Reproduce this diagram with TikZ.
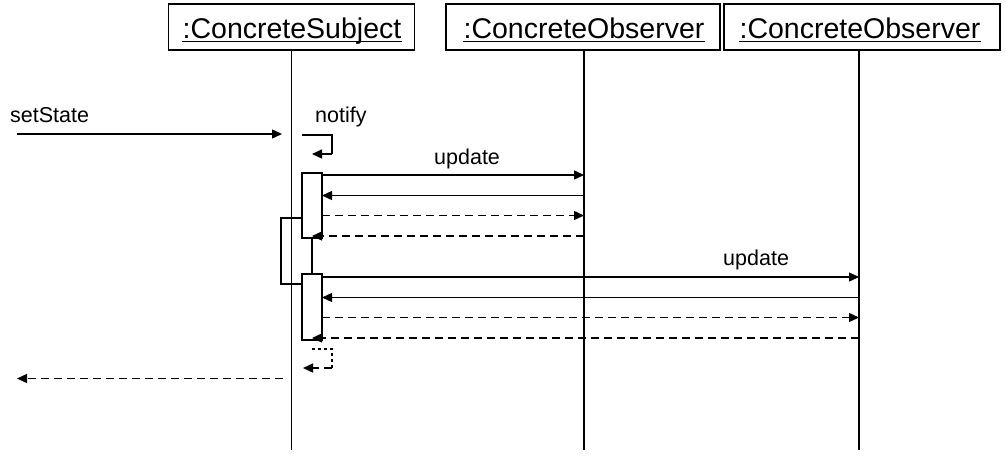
\documentclass[tikz,border=0pt]{standalone}
\usepackage{fontspec}
\setmainfont{Liberation Sans}
\usetikzlibrary{arrows.meta}
\begin{document}
\begin{tikzpicture}[x=1pt,y=-1pt,
  lbl/.style={font=\fontsize{21.5}{24}\selectfont, inner sep=0pt, anchor=base west},
  hdr/.style={draw, line width=1.3pt, minimum height=46pt, inner sep=0pt},
  htext/.style={font=\fontsize{28.5}{32}\selectfont, inner sep=0pt, anchor=base},
  uline/.style={line width=1.4pt},
  life/.style={line width=1.3pt},
  act/.style={draw, fill=white, line width=1.3pt, minimum width=20pt, inner sep=0pt},
  msg/.style={line width=1.4pt, -{Triangle[length=10pt,width=9pt]}},
  plain/.style={line width=1.4pt},
  ret/.style={msg, dash pattern=on 8pt off 5pt},
  dline/.style={line width=1.4pt, dash pattern=on 8pt off 5pt},
]
\useasboundingbox (0,0) rectangle (1006,455);

% headers
\node[hdr, minimum width=246pt] (subj) at (291.5,27) {};
\node[htext] (subjt) at (292,38) {:ConcreteSubject};
\draw[uline] ([yshift=-3.5pt]subjt.base west) -- ([yshift=-3.5pt]subjt.base east);

\node[hdr, minimum width=274pt] (obs1) at (583,27) {};
\node[htext] (obs1t) at (584,38) {:ConcreteObserver};
\draw[uline] ([yshift=-3.5pt]obs1t.base west) -- ([yshift=-3.5pt]obs1t.base east);

\node[hdr, minimum width=276pt] (obs2) at (862,27) {};
\node[htext] (obs2t) at (860,38) {:ConcreteObserver};
\draw[uline] ([yshift=-3.5pt]obs2t.base west) -- ([yshift=-3.5pt]obs2t.base east);

% lifelines
\coordinate (s0) at (291.5,50);  \coordinate (s1) at (291.5,450);
\coordinate (o0) at (584,50);    \coordinate (o1) at (584,450);
\coordinate (p0) at (859,50);    \coordinate (p1) at (859,450);
\draw[life] (s0) -- (s1);
\draw[life] (o0) -- (o1);
\draw[life] (p0) -- (p1);

% bracket between activations
\coordinate (b1) at (302,218); \coordinate (b2) at (281,218);
\coordinate (b3) at (281,284); \coordinate (b4) at (302,284);
\draw[life] (b1) -- (b2) -- (b3) -- (b4);
\coordinate (c1) at (312,238); \coordinate (c2) at (312,274);
\draw[life] (c1) -- (c2);

% activation boxes
\node[act, minimum height=65pt] (a1) at (312,205.5) {};
\node[act, minimum height=66pt] (a2) at (312,307) {};

% setState
\coordinate (ss0) at (17,134); \coordinate (ss1) at (282,134);
\draw[msg] (ss0) -- (ss1);
\node[lbl] (lset) at (10,122) {setState};

% notify self call
\coordinate (n0) at (302,135); \coordinate (n1) at (332,135);
\coordinate (n2) at (332,154); \coordinate (n3) at (312,154);
\draw[plain] (n0) -- (n1) -- (n2);
\draw[msg] (n2) -- (n3);
\node[lbl] (lnot) at (315,122) {notify};

% observer 1
\coordinate (m1a) at (322,175);   \coordinate (m1b) at (584,175);
\coordinate (m2a) at (584,195.5); \coordinate (m2b) at (322,195.5);
\coordinate (m3a) at (322,215.5); \coordinate (m3b) at (584,215.5);
\coordinate (m4a) at (584,236);   \coordinate (m4b) at (312,236);
\draw[msg] (m1a) -- (m1b);
\node[lbl] (lup1) at (434,164) {update};
\draw[msg] (m2a) -- (m2b);
\draw[ret] (m3a) -- (m3b);
\draw[ret] (m4a) -- (m4b);

% observer 2
\coordinate (q1a) at (322,277);   \coordinate (q1b) at (859,277);
\coordinate (q2a) at (859,297.5); \coordinate (q2b) at (322,297.5);
\coordinate (q3a) at (322,317.5); \coordinate (q3b) at (859,317.5);
\coordinate (q4a) at (859,338);   \coordinate (q4b) at (312,338);
\draw[msg] (q1a) -- (q1b);
\node[lbl] (lup2) at (723,265) {update};
\draw[msg] (q2a) -- (q2b);
\draw[ret] (q3a) -- (q3b);
\draw[ret] (q4a) -- (q4b);

% return of notify
\coordinate (r0) at (312,349); \coordinate (r1) at (332,349);
\coordinate (r2) at (332,368); \coordinate (r3) at (303,368);
\draw[dline, dash pattern=on 3pt off 3pt] (r0) -- (r1) -- (r2);
\draw[ret, dash pattern=on 8pt off 5pt] (r2) -- (r3);

% final return
\coordinate (f0) at (283,378.5); \coordinate (f1) at (17,378.5);
\draw[ret] (f0) -- (f1);
\end{tikzpicture}
\end{document}
